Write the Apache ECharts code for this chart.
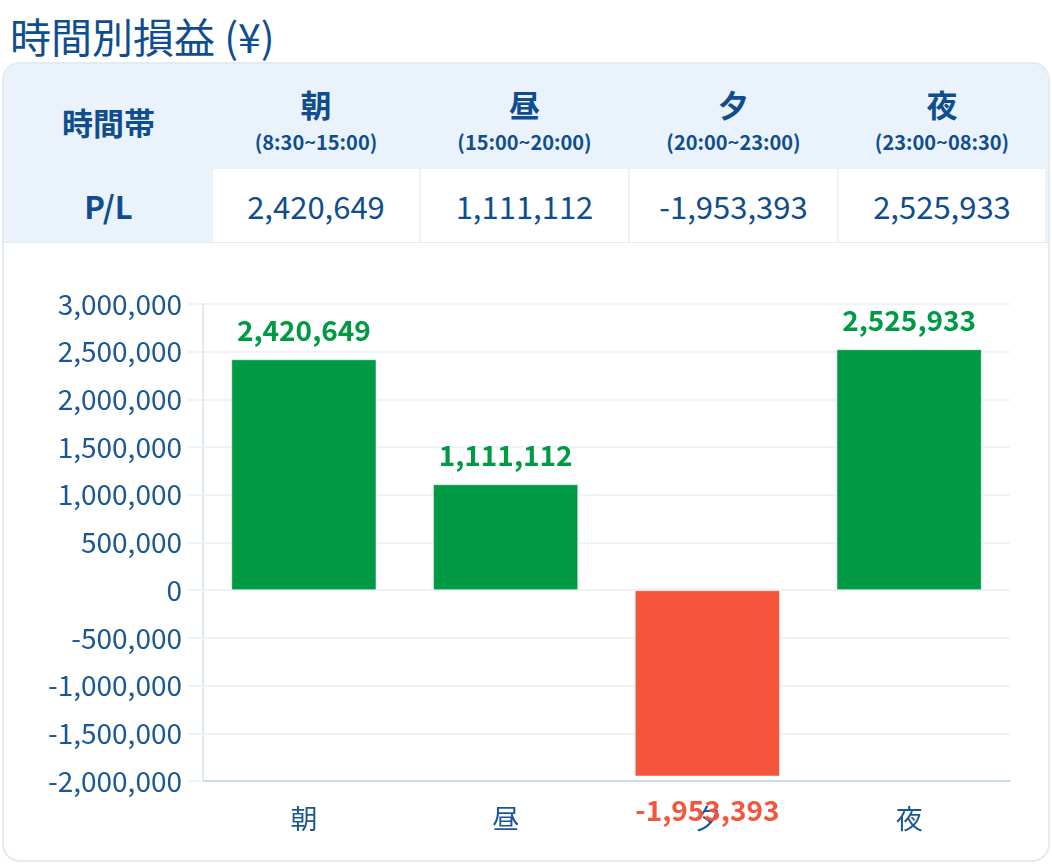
<!DOCTYPE html>
<html>
<head>
<meta charset="utf-8">
<script src="https://cdn.jsdelivr.net/npm/echarts@6/dist/echarts.min.js"></script>
<style>
  html, body { margin:0; padding:0; width:1052px; height:866px; background:#fff; overflow:hidden;
    font-family:"Noto Sans CJK JP","Noto Sans",sans-serif; color:#0f4d8e; }
  #title { position:absolute; left:10px; top:7px; font-size:41px; line-height:56px; color:#0e4d8f; white-space:nowrap; }
  #card { position:absolute; left:2px; top:62px; width:1044px; height:796px; border:2px solid #e2eaf2; border-radius:18px; overflow:hidden; background:#fff; }
  #head { position:absolute; left:0; top:0; width:100%; height:178px; background:#eaf3fb; border-bottom:1px solid #e2eaf2; }
  .cell { position:absolute; display:flex; flex-direction:column; align-items:center; justify-content:center; text-align:center; box-sizing:border-box; }
  .hlabel { font-size:31px; font-weight:bold; line-height:36px; }
  .hsub { font-size:20px; font-weight:bold; line-height:26px; margin-top:7px; }
  .val { background:#fff; font-size:31px; line-height:36px; }
  #chart { position:absolute; left:0; top:242px; width:1052px; height:620px; }
</style>
</head>
<body>
<div id="title">時間別損益 (¥)</div>
<div id="card"><div id="head"></div></div>
<div id="chart"></div>
<script>
const categories = ['朝', '昼', '夕', '夜'];
const timeRanges = ['(8:30~15:00)', '(15:00~20:00)', '(20:00~23:00)', '(23:00~08:30)'];
const plValues = [2420649, 1111112, -1953393, 2525933];
const headerLabel = '時間帯';
const rowLabel = 'P/L';
const yMin = -2000000, yMax = 3000000, yInterval = 500000;

const fmt = v => Number(v).toLocaleString('en-US');
const POS = '#009944', NEG = '#f5553c';

// table
const head = document.getElementById('head');
const colX = [209, 417, 626, 835];
const colW = [206, 207, 207, 206];
function addCell(x, y, w, h, html, cls) {
  const d = document.createElement('div');
  d.className = 'cell ' + (cls || '');
  d.style.left = x + 'px'; d.style.top = y + 'px'; d.style.width = w + 'px'; d.style.height = h + 'px';
  d.innerHTML = html;
  head.appendChild(d);
}
addCell(0, 0, 209, 116, '<div class="hlabel">' + headerLabel + '</div>');
addCell(0, 105, 209, 73, '<div class="hlabel">' + rowLabel + '</div>');
categories.forEach((c, i) => {
  addCell(colX[i], 4, colW[i], 104, '<div class="hlabel">' + c + '</div><div class="hsub">' + timeRanges[i] + '</div>');
  addCell(colX[i], 105, colW[i], 73, fmt(plValues[i]), 'val');
});

const chart = echarts.init(document.getElementById('chart'), null, { renderer: 'canvas' });
chart.setOption({
  animation: false,
  grid: { left: 203, right: 42, top: 62, bottom: 81, containLabel: false },
  xAxis: {
    type: 'category',
    data: categories,
    axisLine: { onZero: false, lineStyle: { color: '#cfdbe7', width: 2 } },
    axisTick: { show: false },
    axisLabel: { color: '#1b5797', fontSize: 27, margin: 24, fontFamily: 'Noto Sans CJK JP' }
  },
  yAxis: {
    type: 'value',
    min: yMin, max: yMax, interval: yInterval,
    axisLine: { show: true, lineStyle: { color: '#dfe7ef', width: 2 } },
    axisTick: { show: true, length: 15, lineStyle: { color: '#eef3f8', width: 2 } },
    splitLine: { lineStyle: { color: '#eef3f8', width: 2 } },
    axisLabel: { color: '#1b5797', fontSize: 28, margin: 21, formatter: v => fmt(v), fontFamily: 'Noto Sans CJK JP' }
  },
  series: [{
    type: 'bar',
    barWidth: '72%',
    data: plValues.map(v => ({
      value: v,
      itemStyle: { color: v >= 0 ? POS : NEG },
      label: { position: v >= 0 ? 'top' : 'bottom', color: v >= 0 ? POS : NEG, distance: v >= 0 ? 15 : 20 }
    })),
    itemStyle: { borderColor: 'rgba(255,255,255,0.5)', borderWidth: 1 },
    label: {
      show: true, fontSize: 28, fontWeight: 'bold', fontFamily: 'Noto Sans CJK JP',
      formatter: p => fmt(p.value)
    }
  }]
});
</script>
</body>
</html>
